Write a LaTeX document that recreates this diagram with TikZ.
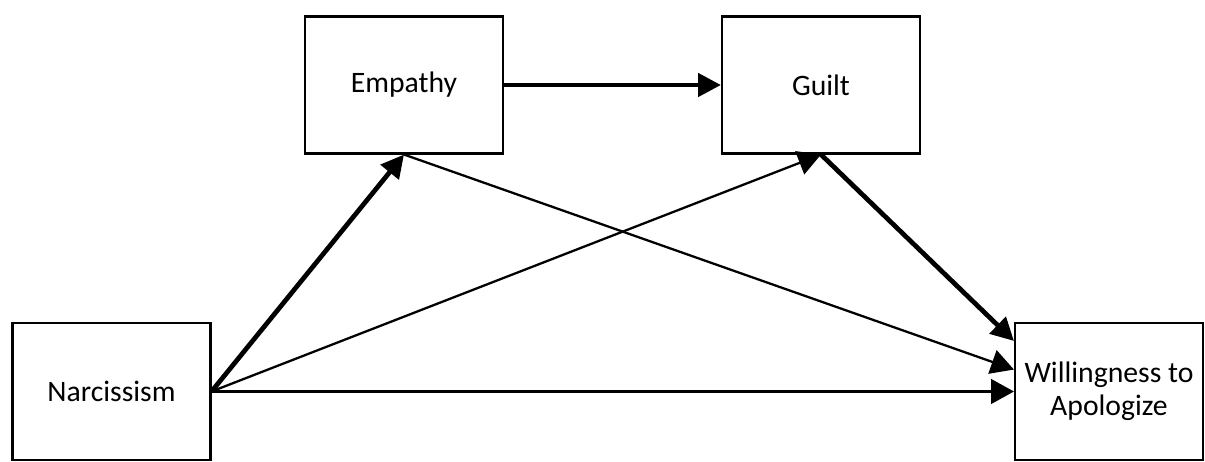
\documentclass[tikz,border=0pt]{standalone}
\usepackage{fontspec}
\setmainfont{Carlito}
\usetikzlibrary{arrows.meta}
\begin{document}
\begin{tikzpicture}[x=0.02cm,y=-0.02cm,font=\fontsize{16.9}{19}\selectfont,
    var/.style={draw, line width=1.2pt, minimum width=3.96cm, minimum height=2.74cm, align=center, inner sep=0pt},
    thin/.style={line width=1.3pt, -{Triangle[length=13pt,width=14pt]}},
    thick/.style={line width=2.7pt, -{Triangle[length=13pt,width=13pt]}}]
    % fix the page size
    \useasboundingbox (0,0) rectangle (1205,462);

    % Draw the variables
    \node[var] (narc) at (111.5,391.5) {Narcissism};
    \node[var] (emp) at (404,85) {Empathy};
    \node[var] (guilt) at (821,85) {Guilt};
    \node[var, minimum width=3.76cm] (will) at (1109,391.5) {Willingness to\\Apologize};

    % Add the paths
    \draw[thick] (emp.east) -- (guilt.west);
    \draw[thick] (narc.east) -- (emp.south);
    \draw[thin] (narc.east) -- (guilt.south);
    \draw[thin] (narc.east) -- (will.west);
    \draw[thin] (emp.south) -- (will.167);
    \draw[thick] (guilt.south) -- (will.152);
\end{tikzpicture}
\end{document}
